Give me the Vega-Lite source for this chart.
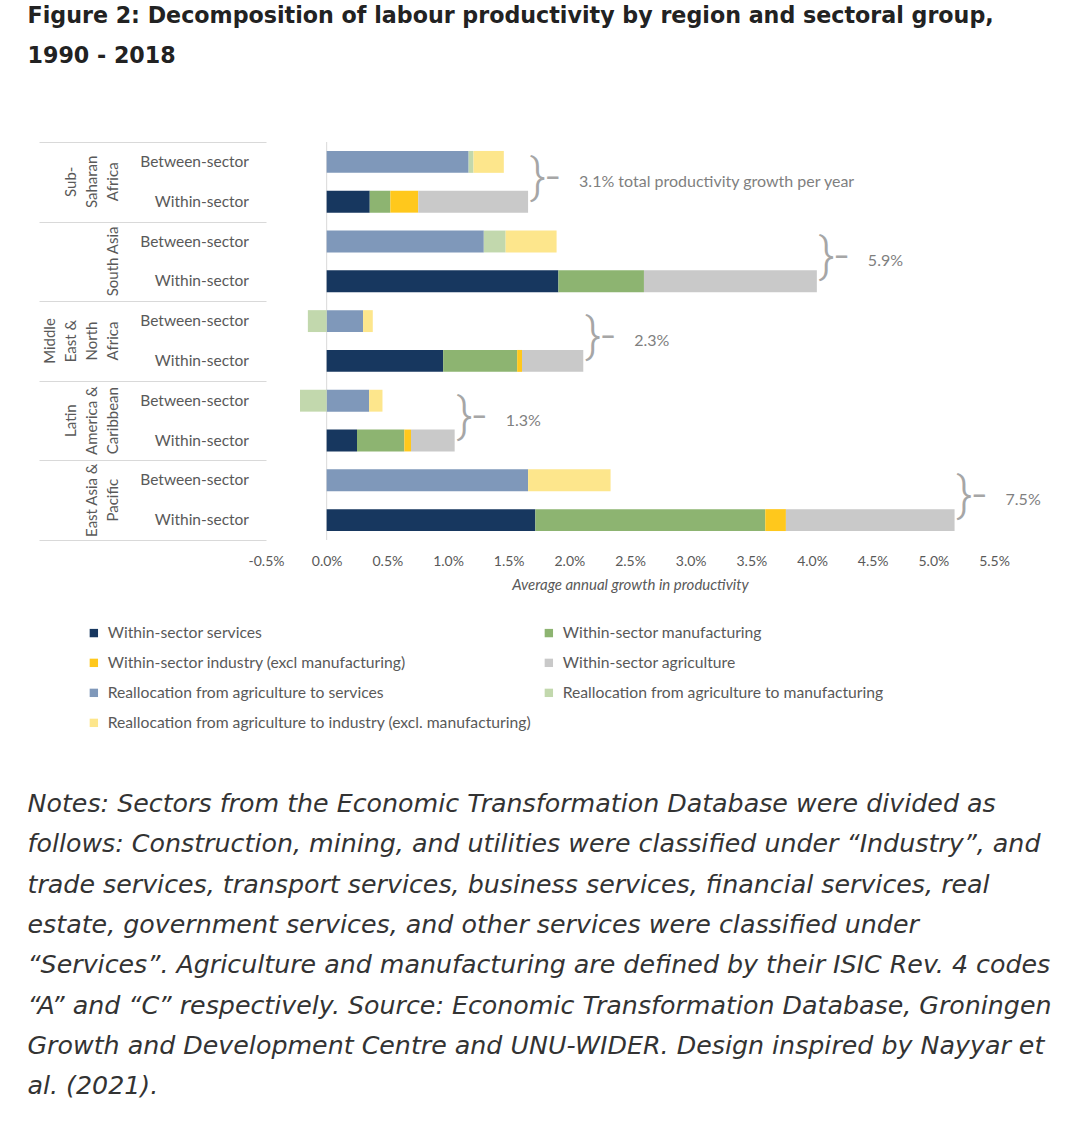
{
  "$schema": "https://vega.github.io/schema/vega-lite/v6.json",
  "padding": {"left": 27, "top": 5, "right": 5, "bottom": 5},
  "background": "white",
  "config": {"view": {"stroke": null}},
  "title": {
    "text": ["Figure 2: Decomposition of labour productivity by region and sectoral group,", "1990 - 2018"],
    "anchor": "start",
    "frame": "bounds",
    "dx": 0,
    "font": "DejaVu Sans",
    "fontSize": 22.2,
    "fontWeight": "bold",
    "color": "#222222",
    "lineHeight": 40,
    "offset": 74
  },
  "datasets": {
    "bars": [
      {"region": "Sub-Saharan Africa", "type": "Between-sector", "component": "Reallocation from agriculture to services", "value": 1.17},
      {"region": "Sub-Saharan Africa", "type": "Between-sector", "component": "Reallocation from agriculture to manufacturing", "value": 0.04},
      {"region": "Sub-Saharan Africa", "type": "Between-sector", "component": "Reallocation from agriculture to industry (excl. manufacturing)", "value": 0.25},
      {"region": "Sub-Saharan Africa", "type": "Within-sector", "component": "Within-sector services", "value": 0.355},
      {"region": "Sub-Saharan Africa", "type": "Within-sector", "component": "Within-sector manufacturing", "value": 0.17},
      {"region": "Sub-Saharan Africa", "type": "Within-sector", "component": "Within-sector industry (excl manufacturing)", "value": 0.23},
      {"region": "Sub-Saharan Africa", "type": "Within-sector", "component": "Within-sector agriculture", "value": 0.905},
      {"region": "South Asia", "type": "Between-sector", "component": "Reallocation from agriculture to services", "value": 1.295},
      {"region": "South Asia", "type": "Between-sector", "component": "Reallocation from agriculture to manufacturing", "value": 0.18},
      {"region": "South Asia", "type": "Between-sector", "component": "Reallocation from agriculture to industry (excl. manufacturing)", "value": 0.42},
      {"region": "South Asia", "type": "Within-sector", "component": "Within-sector services", "value": 1.91},
      {"region": "South Asia", "type": "Within-sector", "component": "Within-sector manufacturing", "value": 0.705},
      {"region": "South Asia", "type": "Within-sector", "component": "Within-sector industry (excl manufacturing)", "value": 0.0},
      {"region": "South Asia", "type": "Within-sector", "component": "Within-sector agriculture", "value": 1.425},
      {"region": "Middle East & North Africa", "type": "Between-sector", "component": "Reallocation from agriculture to services", "value": 0.30},
      {"region": "Middle East & North Africa", "type": "Between-sector", "component": "Reallocation from agriculture to manufacturing", "value": -0.155},
      {"region": "Middle East & North Africa", "type": "Between-sector", "component": "Reallocation from agriculture to industry (excl. manufacturing)", "value": 0.08},
      {"region": "Middle East & North Africa", "type": "Within-sector", "component": "Within-sector services", "value": 0.96},
      {"region": "Middle East & North Africa", "type": "Within-sector", "component": "Within-sector manufacturing", "value": 0.61},
      {"region": "Middle East & North Africa", "type": "Within-sector", "component": "Within-sector industry (excl manufacturing)", "value": 0.04},
      {"region": "Middle East & North Africa", "type": "Within-sector", "component": "Within-sector agriculture", "value": 0.505},
      {"region": "Latin America & Caribbean", "type": "Between-sector", "component": "Reallocation from agriculture to services", "value": 0.35},
      {"region": "Latin America & Caribbean", "type": "Between-sector", "component": "Reallocation from agriculture to manufacturing", "value": -0.22},
      {"region": "Latin America & Caribbean", "type": "Between-sector", "component": "Reallocation from agriculture to industry (excl. manufacturing)", "value": 0.11},
      {"region": "Latin America & Caribbean", "type": "Within-sector", "component": "Within-sector services", "value": 0.25},
      {"region": "Latin America & Caribbean", "type": "Within-sector", "component": "Within-sector manufacturing", "value": 0.39},
      {"region": "Latin America & Caribbean", "type": "Within-sector", "component": "Within-sector industry (excl manufacturing)", "value": 0.055},
      {"region": "Latin America & Caribbean", "type": "Within-sector", "component": "Within-sector agriculture", "value": 0.36},
      {"region": "East Asia & Pacific", "type": "Between-sector", "component": "Reallocation from agriculture to services", "value": 1.66},
      {"region": "East Asia & Pacific", "type": "Between-sector", "component": "Reallocation from agriculture to manufacturing", "value": 0.0},
      {"region": "East Asia & Pacific", "type": "Between-sector", "component": "Reallocation from agriculture to industry (excl. manufacturing)", "value": 0.68},
      {"region": "East Asia & Pacific", "type": "Within-sector", "component": "Within-sector services", "value": 1.72},
      {"region": "East Asia & Pacific", "type": "Within-sector", "component": "Within-sector manufacturing", "value": 1.895},
      {"region": "East Asia & Pacific", "type": "Within-sector", "component": "Within-sector industry (excl manufacturing)", "value": 0.17},
      {"region": "East Asia & Pacific", "type": "Within-sector", "component": "Within-sector agriculture", "value": 1.39}
    ],
    "totals": [
      {"region": "Sub-Saharan Africa", "rlabel": "Sub-|Saharan|Africa", "label": "3.1% total productivity growth per year"},
      {"region": "South Asia", "rlabel": "South Asia", "label": "5.9%"},
      {"region": "Middle East & North Africa", "rlabel": "Middle|East &|North|Africa", "label": "2.3%"},
      {"region": "Latin America & Caribbean", "rlabel": "Latin|America &|Caribbean", "label": "1.3%"},
      {"region": "East Asia & Pacific", "rlabel": "East Asia &|Pacific", "label": "7.5%"}
    ]
  },
  "vconcat": [
    {
      "width": 728,
      "height": 398,
      "title": {
        "text": [
          "Notes: Sectors from the Economic Transformation Database were divided as",
          "follows: Construction, mining, and utilities were classified under “Industry”, and",
          "trade services, transport services, business services, financial services, real",
          "estate, government services, and other services were classified under",
          "“Services”. Agriculture and manufacturing are defined by their ISIC Rev. 4 codes",
          "“A” and “C” respectively. Source: Economic Transformation Database, Groningen",
          "Growth and Development Centre and UNU-WIDER. Design inspired by Nayyar et",
          "al. (2021)."
        ],
        "orient": "bottom",
        "anchor": "start",
        "frame": "bounds",
        "dx": -11,
        "offset": 200,
        "font": "DejaVu Sans",
        "fontSize": 25.3,
        "fontStyle": "italic",
        "fontWeight": "normal",
        "color": "#333333",
        "lineHeight": 40.3
      },
      "layer": [
        {
          "data": {"values": [{}]},
          "mark": {"type": "rule", "color": "#d9d9d9", "strokeWidth": 1},
          "encoding": {"x": {"datum": 0, "type": "quantitative"}}
        },
        {
          "data": {"name": "bars"},
          "transform": [
            {"calculate": "indexof(['Within-sector services','Within-sector manufacturing','Within-sector industry (excl manufacturing)','Within-sector agriculture','Reallocation from agriculture to services','Reallocation from agriculture to manufacturing','Reallocation from agriculture to industry (excl. manufacturing)'], datum.component)", "as": "ord"},
            {"stack": "value", "groupby": ["region", "type"], "sort": [{"field": "ord", "order": "ascending"}], "as": ["x0", "x1"]}
          ],
          "mark": {"type": "bar"},
          "encoding": {
            "x": {
              "field": "x0", "type": "quantitative",
              "scale": {"domain": [-0.5, 5.5], "nice": false, "zero": false},
              "axis": {
                "values": [-0.5, 0, 0.5, 1, 1.5, 2, 2.5, 3, 3.5, 4, 4.5, 5, 5.5],
                "labelExpr": "(datum.value < 0 ? '-' : '') + format(abs(datum.value), '.1f') + '%'",
                "domain": false, "ticks": false, "grid": false, "labelFlush": false,
                "labelFont": "Lato", "labelFontSize": 14, "labelColor": "#595959", "labelPadding": 14,
                "title": "Average annual growth in productivity",
                "titleFont": "Lato", "titleFontStyle": "italic", "titleFontWeight": "normal",
                "titleFontSize": 15, "titleColor": "#595959", "titlePadding": 9
              }
            },
            "x2": {"field": "x1"},
            "y": {
              "field": "region", "type": "nominal",
              "sort": ["Sub-Saharan Africa", "South Asia", "Middle East & North Africa", "Latin America & Caribbean", "East Asia & Pacific"],
              "scale": {"paddingInner": 0, "paddingOuter": 0},
              "axis": {
                "title": null, "domain": false, "ticks": true, "tickBand": "extent",
                "tickSize": 227, "tickColor": "#d9d9d9", "tickWidth": 1,
                "labels": false
              }
            },
            "yOffset": {
              "field": "type", "type": "nominal", "sort": ["Between-sector", "Within-sector"],
              "scale": {"paddingInner": 0.45, "paddingOuter": 0.225}
            },
            "color": {
              "field": "component", "type": "nominal",
              "scale": {
                "domain": ["Within-sector services", "Within-sector industry (excl manufacturing)", "Reallocation from agriculture to services", "Reallocation from agriculture to industry (excl. manufacturing)", "Within-sector manufacturing", "Within-sector agriculture", "Reallocation from agriculture to manufacturing"],
                "range": ["#17375f", "#ffc81c", "#7f98ba", "#fde68c", "#8db471", "#c9c9c9", "#c2d8ad"]
              },
              "legend": {
                "title": null, "orient": "none", "legendX": -180, "legendY": 483,
                "columns": 2, "columnPadding": 10, "rowPadding": 13,
                "symbolType": "square", "symbolSize": 70, "symbolStrokeWidth": 0,
                "labelFont": "Lato", "labelFontSize": 15.7, "labelColor": "#595959",
                "labelOffset": 6, "labelLimit": 600
              }
            }
          }
        },
        {
          "data": {"name": "bars"},
          "transform": [{"aggregate": [{"op": "count", "as": "n"}], "groupby": ["region", "type"]}],
          "mark": {"type": "text", "align": "right", "baseline": "middle", "dx": -17, "font": "Lato", "fontSize": 15.5, "color": "#595959"},
          "encoding": {
            "x": {"datum": -0.5, "type": "quantitative"},
            "y": {"field": "region", "type": "nominal", "sort": ["Sub-Saharan Africa", "South Asia", "Middle East & North Africa", "Latin America & Caribbean", "East Asia & Pacific"]},
            "yOffset": {"field": "type", "type": "nominal", "sort": ["Between-sector", "Within-sector"]},
            "text": {"field": "type"}
          }
        },
        {
          "data": {"name": "totals"},
          "transform": [{"calculate": "length(split(datum.rlabel, '|'))", "as": "nlines"}],
          "mark": {
            "type": "text", "angle": 270, "align": "center", "baseline": "bottom",
            "lineBreak": "|", "lineHeight": 21, "dx": 0,
            "dy": {"expr": "-(145 + (datum.nlines - 1) * 21)"},
            "font": "Lato", "fontSize": 15, "color": "#595959"
          },
          "encoding": {
            "x": {"datum": -0.5, "type": "quantitative"},
            "y": {"field": "region", "type": "nominal", "sort": ["Sub-Saharan Africa", "South Asia", "Middle East & North Africa", "Latin America & Caribbean", "East Asia & Pacific"]},
            "text": {"field": "rlabel"}
          }
        },
        {
          "data": {"name": "bars"},
          "transform": [
            {"filter": "datum.value > 0"},
            {"aggregate": [{"op": "sum", "field": "value", "as": "tot"}], "groupby": ["region", "type"]},
            {"aggregate": [{"op": "max", "field": "tot", "as": "xend"}], "groupby": ["region"]},
            {"lookup": "region", "from": {"data": {"name": "totals"}, "key": "region", "fields": ["label"]}}
          ],
          "layer": [
            {
              "mark": {"type": "text", "align": "left", "baseline": "middle", "dx": 2, "dy": -3, "font": "Roboto", "fontWeight": 300, "fontSize": 48, "color": "#a6a6a6", "text": "}-"},
              "encoding": {
                "x": {"field": "xend", "type": "quantitative"},
                "y": {"field": "region", "type": "nominal", "sort": ["Sub-Saharan Africa", "South Asia", "Middle East & North Africa", "Latin America & Caribbean", "East Asia & Pacific"]}
              }
            },
            {
              "mark": {"type": "text", "align": "left", "baseline": "middle", "dx": 51, "font": "Lato", "fontSize": 16, "color": "#7f7f7f"},
              "encoding": {
                "x": {"field": "xend", "type": "quantitative"},
                "y": {"field": "region", "type": "nominal", "sort": ["Sub-Saharan Africa", "South Asia", "Middle East & North Africa", "Latin America & Caribbean", "East Asia & Pacific"]},
                "text": {"field": "label"}
              }
            }
          ]
        }
      ]
    }
  ]
}
